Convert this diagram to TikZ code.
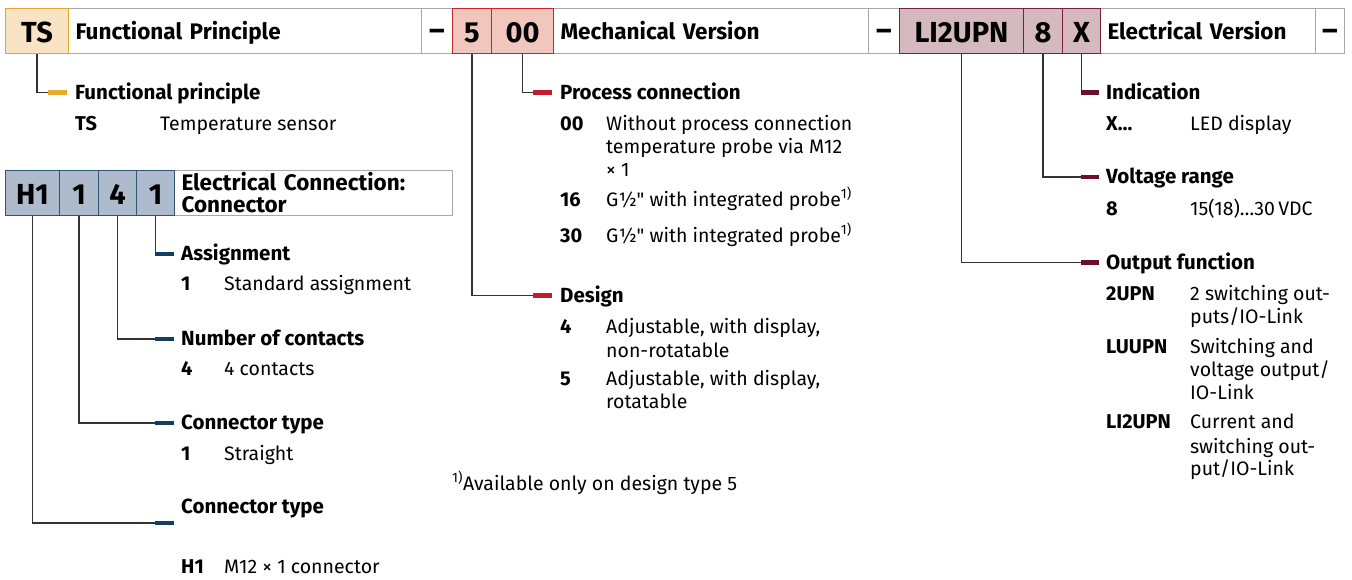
\documentclass[tikz,border=0pt]{standalone}
\usepackage{fontspec}
\setmainfont{Fira Sans}
\definecolor{orF}{HTML}{F8E3C4}\definecolor{orD}{HTML}{E3A532}\definecolor{orM}{HTML}{E8AA30}
\definecolor{reF}{HTML}{F1C7BD}\definecolor{reD}{HTML}{C8242F}\definecolor{reM}{HTML}{C41E2E}
\definecolor{maF}{HTML}{D4B9BE}\definecolor{maD}{HTML}{7B1F3D}\definecolor{maM}{HTML}{6A0F2F}
\definecolor{blF}{HTML}{AEBBCD}\definecolor{blD}{HTML}{2F5574}\definecolor{blM}{HTML}{123E63}
\definecolor{grB}{HTML}{A8A8A8}\definecolor{lnC}{HTML}{333333}
\tikzset{
  wbox/.style={draw=grB,fill=white,line width=1pt,inner sep=0pt,anchor=north west,minimum height=45pt},
  cell/.style 2 args={draw=#2,fill=#1,line width=1pt,inner sep=0pt,anchor=north west,minimum height=45pt,
     text height=23pt,text depth=0pt,font=\fontsize{29}{30}\selectfont\bfseries},
  btitle/.style={wbox,align=left,inner xsep=7pt,text height=17pt,text depth=0pt,font=\fontsize{22.5}{24}\selectfont\bfseries},
  ctitle/.style={wbox,align=left,inner xsep=7pt,font=\fontsize{22.5}{22}\selectfont\bfseries},
  dbox/.style={wbox,text height=19pt,text depth=0pt,font=\fontsize{30}{32}\selectfont\bfseries},
  conn/.style={draw=lnC,line width=1.1pt},
  mk/.style={draw=#1,line width=4.2pt},
  head/.style={anchor=base west,inner sep=0pt,font=\fontsize{20.5}{22}\selectfont\bfseries},
  key/.style={anchor=base west,inner sep=0pt,font=\fontsize{20}{22}\selectfont\bfseries},
  desc/.style={anchor=base west,inner sep=0pt,font=\fontsize{19.5}{22}\selectfont},
}
\begin{document}
\begin{tikzpicture}[x=1pt,y=-1pt]
\useasboundingbox[fill=white] (0,0) rectangle (1352,579);
% ---------- top bar ----------
\node[btitle,minimum width=353pt,text width=339pt] (fp) at (68,8) {Functional Principle};
\node[dbox,minimum width=31pt] (d1) at (421,8) {\textendash};
\node[btitle,minimum width=315pt,text width=301pt] (mv) at (553,8) {Mechanical Version};
\node[dbox,minimum width=31pt] (d2) at (868,8) {\textendash};
\node[btitle,minimum width=215pt,text width=201pt] (ev) at (1100,8) {Electrical Version};
\node[dbox,minimum width=29pt] (d3) at (1315,8) {\textendash};
\node[cell={orF}{orD},minimum width=63pt] (ts) at (5,8) {TS};
\node[cell={reF}{reD},minimum width=39pt] (c5) at (452,8) {5};
\node[cell={reF}{reD},minimum width=62pt] (c00) at (491,8) {00};
\node[cell={maF}{maD},minimum width=124pt] (cLI) at (899,8) {LI2UPN};
\node[cell={maF}{maD},minimum width=39pt] (c8) at (1023,8) {8};
\node[cell={maF}{maD},minimum width=38pt] (cX) at (1062,8) {X};
% ---------- blue bar ----------
\node[ctitle,minimum width=278pt,text width=264pt] (ec) at (174,170) {Electrical Connection:\\Connector};
\node[cell={blF}{blD},minimum width=54pt] (bH) at (5,170) {H1};
\node[cell={blF}{blD},minimum width=39pt] (bA) at (59,170) {1};
\node[cell={blF}{blD},minimum width=38pt] (bB) at (98,170) {4};
\node[cell={blF}{blD},minimum width=38pt] (bC) at (136,170) {1};
% ---------- marker coordinates ----------
\coordinate (fpA) at (48,92.5);   \coordinate (fpB) at (67,92.5);
\coordinate (pcA) at (533,92.5);  \coordinate (pcB) at (552,92.5);
\coordinate (dsA) at (533,295.5); \coordinate (dsB) at (552,295.5);
\coordinate (inA) at (1081,92.5); \coordinate (inB) at (1099,92.5);
\coordinate (vrA) at (1081,177);  \coordinate (vrB) at (1099,177);
\coordinate (ofA) at (1081,262.5);\coordinate (ofB) at (1099,262.5);
\coordinate (asA) at (155,254);   \coordinate (asB) at (174,254);
\coordinate (ncA) at (155,339);   \coordinate (ncB) at (174,339);
\coordinate (ctA) at (155,423);   \coordinate (ctB) at (174,423);
\coordinate (htA) at (155,523);   \coordinate (htB) at (174,523);
% ---------- connectors ----------
\draw[conn] (ts.south) |- (fpA);
\draw[conn] (c00.south) |- (pcA);
\draw[conn] (c5.south) |- (dsA);
\draw[conn] (cX.south) |- (inA);
\draw[conn] (c8.south) |- (vrA);
\draw[conn] (cLI.south) |- (ofA);
\draw[conn] (bC.south) |- (asA);
\draw[conn] (bB.south) |- (ncA);
\draw[conn] (bA.south) |- (ctA);
\draw[conn] (bH.south) |- (htA);
\draw[mk=orM] (fpA) -- (fpB);
\draw[mk=reM] (pcA) -- (pcB);
\draw[mk=reM] (dsA) -- (dsB);
\draw[mk=maM] (inA) -- (inB);
\draw[mk=maM] (vrA) -- (vrB);
\draw[mk=maM] (ofA) -- (ofB);
\draw[mk=blM] (asA) -- (asB);
\draw[mk=blM] (ncA) -- (ncB);
\draw[mk=blM] (ctA) -- (ctB);
\draw[mk=blM] (htA) -- (htB);
% ---------- functional principle ----------
\node[head] (h1) at (75,99) {Functional principle};
\node[key] at (75,130) {TS};
\node[desc] at (160,130) {Temperature sensor};
% ---------- process connection ----------
\node[head] (h2) at (560,99) {Process connection};
\node[key] at (560,130) {00};
\node[desc] at (606,130) {Without process connection};
\node[desc] at (606,153) {temperature probe via M12};
\node[desc] at (606,176) {\texttimes\ 1};
\node[key] at (560,206) {16};
\node[desc] at (606,206) {G\textonehalf\textquotedbl\ with integrated probe\textsuperscript{1)}};
\node[key] at (560,242) {30};
\node[desc] at (606,242) {G\textonehalf\textquotedbl\ with integrated probe\textsuperscript{1)}};
\node[head] (h3) at (560,302) {Design};
\node[key] at (560,333) {4};
\node[desc] at (606,333) {Adjustable, with display,};
\node[desc] at (606,357) {non-rotatable};
\node[key] at (560,385) {5};
\node[desc] at (606,385) {Adjustable, with display,};
\node[desc] at (606,408) {rotatable};
\node[desc] at (452,490) {\textsuperscript{1)}Available only on design type 5};
% ---------- electrical version ----------
\node[head] (h4) at (1106,99) {Indication};
\node[key] at (1106,130) {X\dots};
\node[desc] at (1190,130) {LED display};
\node[head] (h5) at (1106,183.5) {Voltage range};
\node[key] at (1106,215) {8};
\node[desc] at (1190,215) {15(18)\dots30\,VDC};
\node[head] (h6) at (1106,269) {Output function};
\node[key] at (1106,300) {2UPN};
\node[desc] at (1190,300) {2 switching out-};
\node[desc] at (1190,323) {puts/IO-Link};
\node[key] at (1106,353) {LUUPN};
\node[desc] at (1190,353) {Switching and};
\node[desc] at (1190,376) {voltage output/};
\node[desc] at (1190,399) {IO-Link};
\node[key] at (1106,428) {LI2UPN};
\node[desc] at (1190,428) {Current and};
\node[desc] at (1190,453) {switching out-};
\node[desc] at (1190,475) {put/IO-Link};
% ---------- electrical connection ----------
\node[head] (h7) at (181,260) {Assignment};
\node[key] at (181,290) {1};
\node[desc] at (224,290) {Standard assignment};
\node[head] (h8) at (181,345) {Number of contacts};
\node[key] at (181,375) {4};
\node[desc] at (224,375) {4 contacts};
\node[head] (h9) at (181,429) {Connector type};
\node[key] at (181,460) {1};
\node[desc] at (224,460) {Straight};
\node[head] (h10) at (181,513) {Connector type};
\node[key] at (181,573) {H1};
\node[desc] at (224,573) {M12 \texttimes\ 1 connector};
\end{tikzpicture}
\end{document}
